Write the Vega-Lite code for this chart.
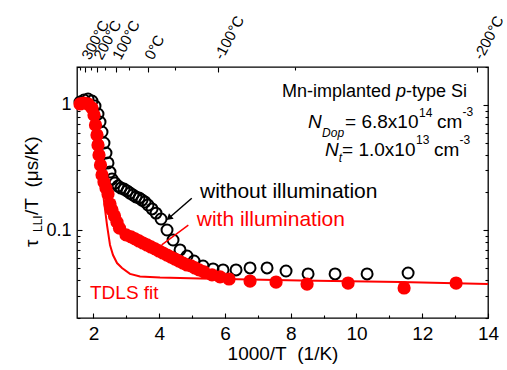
{
  "$schema": "https://vega.github.io/schema/vega-lite/v6.json",
  "width": 411,
  "height": 251,
  "autosize": "none",
  "padding": {"left": 77, "top": 67, "right": 19, "bottom": 52},
  "background": "white",
  "config": {
    "font": "Liberation Sans",
    "view": {"stroke": "#000", "strokeWidth": 1.3},
    "axis": {"grid": false, "domain": false, "tickColor": "#000", "tickWidth": 1.1, "labelColor": "#000", "labelFont": "Liberation Sans", "titleFont": "Liberation Sans", "titleColor": "#000", "labelFlush": false, "labelOverlap": false, "labelBound": false}
  },
  "datasets": {
    "without": [
      {"x":1.591,"y":1.053},{"x":1.713,"y":1.092},{"x":1.835,"y":1.112},{"x":1.956,"y":1.072},{"x":2.048,"y":0.978},{"x":2.139,"y":0.845},{"x":2.2,"y":0.729},{"x":2.261,"y":0.607},{"x":2.321,"y":0.496},{"x":2.382,"y":0.413},{"x":2.443,"y":0.344},{"x":2.504,"y":0.291},{"x":2.565,"y":0.256},{"x":2.656,"y":0.238},{"x":2.747,"y":0.225},{"x":2.839,"y":0.217},{"x":2.93,"y":0.213},{"x":3.021,"y":0.206},{"x":3.112,"y":0.198},{"x":3.204,"y":0.191},{"x":3.295,"y":0.184},{"x":3.386,"y":0.181},{"x":3.478,"y":0.174},{"x":3.569,"y":0.168},{"x":3.66,"y":0.159},{"x":3.782,"y":0.148},{"x":3.903,"y":0.137},{"x":4.056,"y":0.123},{"x":4.238,"y":0.1005},{"x":4.421,"y":0.0837},{"x":4.634,"y":0.0697},{"x":4.847,"y":0.0624},{"x":5.059,"y":0.0569},{"x":5.333,"y":0.0519},{"x":5.638,"y":0.0492},{"x":5.942,"y":0.0483},{"x":6.337,"y":0.0483},{"x":6.763,"y":0.0501},{"x":7.28,"y":0.0501},{"x":7.858,"y":0.0474},{"x":8.528,"y":0.0449},{"x":9.349,"y":0.0449},{"x":10.323,"y":0.0449},{"x":11.57,"y":0.0457}
    ],
    "with": [
      {"x":1.591,"y":1.015},{"x":1.713,"y":1.033},{"x":1.835,"y":1.015},{"x":1.956,"y":0.943},{"x":2.017,"y":0.829},{"x":2.063,"y":0.69},{"x":2.108,"y":0.574},{"x":2.139,"y":0.478},{"x":2.169,"y":0.398},{"x":2.215,"y":0.331},{"x":2.261,"y":0.276},{"x":2.321,"y":0.242},{"x":2.382,"y":0.217},{"x":2.443,"y":0.195},{"x":2.504,"y":0.162},{"x":2.565,"y":0.145},{"x":2.641,"y":0.13},{"x":2.717,"y":0.116},{"x":2.793,"y":0.104},{"x":2.991,"y":0.0918},{"x":3.143,"y":0.0885},{"x":3.265,"y":0.0853},{"x":3.386,"y":0.0822},{"x":3.508,"y":0.0792},{"x":3.63,"y":0.0764},{"x":3.751,"y":0.0736},{"x":3.873,"y":0.071},{"x":3.995,"y":0.0684},{"x":4.116,"y":0.0659},{"x":4.238,"y":0.0635},{"x":4.36,"y":0.0612},{"x":4.481,"y":0.059},{"x":4.603,"y":0.0569},{"x":4.725,"y":0.0548},{"x":4.847,"y":0.0529},{"x":4.968,"y":0.052},{"x":5.09,"y":0.0501},{"x":5.212,"y":0.0483},{"x":5.364,"y":0.0466},{"x":5.607,"y":0.0441},{"x":5.851,"y":0.0425},{"x":6.124,"y":0.0409},{"x":6.763,"y":0.0394},{"x":7.554,"y":0.0387},{"x":8.497,"y":0.0373},{"x":9.745,"y":0.038},{"x":11.448,"y":0.0347},{"x":13.03,"y":0.038}
    ],
    "fit": [
      {"x":1.53,"y":1.033},{"x":1.713,"y":1.072},{"x":1.835,"y":1.072},{"x":1.956,"y":0.978},{"x":2.078,"y":0.69},{"x":2.169,"y":0.436},{"x":2.245,"y":0.276},{"x":2.306,"y":0.184},{"x":2.413,"y":0.11},{"x":2.504,"y":0.0764},{"x":2.595,"y":0.0635},{"x":2.717,"y":0.0548},{"x":2.869,"y":0.0501},{"x":3.112,"y":0.0449},{"x":3.417,"y":0.0428},{"x":4.025,"y":0.042},{"x":5.242,"y":0.0413},{"x":8.284,"y":0.0398},{"x":11.327,"y":0.0387},{"x":14.0,"y":0.0373}
    ],
    "txtCurve": [
      {"x":5.242,"y":0.2018,"t":"without illumination"}
    ],
    "txtBlack": [
      {"x":7.737,"y":1.272,"t":"Mn-implanted"},
      {"x":11.509,"y":1.272,"t":"-type Si"}
    ],
    "txtBlack2": [
      {"x":9.653,"y":0.7334,"t":"= 6.8x10"},
      {"x":12.452,"y":0.7334,"t":"cm"},
      {"x":9.562,"y":0.436,"t":"= 1.0x10"},
      {"x":12.361,"y":0.436,"t":"cm"}
    ],
    "txtRed": [
      {"x":5.142,"y":0.1208,"t":"with illumination"}
    ],
    "txtRed2": [
      {"x":1.895,"y":0.03165,"t":"TDLS fit"}
    ],
    "txtItal1": [
      {"x":11.205,"y":1.272,"t":"p"}
    ],
    "txtItal": [
      {"x":8.528,"y":0.7334,"t":"N"},
      {"x":9.045,"y":0.436,"t":"N"}
    ],
    "txtItalSmall": [
      {"x":8.954,"y":0.5926,"t":"Dop"},
      {"x":9.462,"y":0.377,"t":"t"}
    ],
    "txtSmall": [
      {"x":11.905,"y":0.865,"t":"14"},
      {"x":13.228,"y":0.876,"t":"-3"},
      {"x":11.813,"y":0.524,"t":"13"},
      {"x":13.137,"y":0.524,"t":"-3"}
    ],
    "yTitle": [
      {"x":0.122,"y":0.0736,"t":"τ"},
      {"x":0.122,"y":0.1324,"t":"/T\u00a0\u00a0(μs/K)"}
    ],
    "yTitleSub": [
      {"x":0.329,"y":0.0969,"t":"LLI"}
    ],
    "arrow": [
      {"x":4.99,"y":0.18,"x2":4.298,"y2":0.1253}
    ],
    "arrowHead": [
      {"x":4.298,"y":0.1253}
    ],
    "redSeg": [
      {"x":4.886,"y":0.11,"x2":4.077,"y2":0.0764}
    ]
  },
  "resolve": {"axis": {"x": "independent", "y": "independent"}},
  "layer": [
    {
      "data": {"name": "without"},
      "mark": {"type": "point", "shape": "circle", "filled": false, "stroke": "#000", "strokeWidth": 2, "size": 120, "opacity": 1},
      "encoding": {
        "x": {"field": "x", "type": "quantitative", "scale": {"domain": [1.5, 14], "nice": false, "zero": false},
              "axis": {"orient": "bottom", "values": [2,4,6,8,10,12,14], "tickSize": -5, "labelPadding": 11, "labelFontSize": 19, "title": "1000/T\u00a0\u00a0(1/K)", "titleFontSize": 19, "titleFontWeight": "normal", "titlePadding": 1}},
        "y": {"field": "y", "type": "quantitative", "scale": {"type": "log", "domain": [0.02, 2], "nice": false, "zero": false},
              "axis": {"orient": "left", "values": [0.1, 1], "tickSize": -5, "labelPadding": 11, "labelFontSize": 18, "title": null, "labelExpr": "datum.value >= 0.5 ? '1' : '0.1'"}}
      }
    },
    {
      "data": {"name": "fit"},
      "mark": {"type": "line", "color": "#ff0000", "strokeWidth": 2},
      "encoding": {
        "x": {"field": "x", "type": "quantitative", "scale": {"domain": [1.5, 14], "nice": false, "zero": false},
              "axis": {"orient": "bottom", "values": [3,5,7,9,11,13], "tickSize": -3, "labels": false, "title": null}},
        "y": {"field": "y", "type": "quantitative", "scale": {"type": "log", "domain": [0.02, 2], "nice": false, "zero": false},
              "axis": {"orient": "left", "values": [0.02,0.03,0.04,0.05,0.06,0.07,0.08,0.09,0.2,0.3,0.4,0.5,0.6,0.7,0.8,0.9,2], "tickSize": -3, "labels": false, "title": null}}
      }
    },
    {
      "data": {"name": "with"},
      "mark": {"type": "point", "shape": "circle", "filled": true, "color": "#ff0000", "size": 175, "opacity": 1},
      "encoding": {
        "x": {"field": "x", "type": "quantitative", "scale": {"domain": [1.5, 14], "nice": false, "zero": false},
              "axis": {"orient": "top", "values": [1.74474, 2.11349, 2.67989, 3.66099, 5.77534, 13.67054], "tickSize": -5, "labelAngle": -62, "labelAlign": "left", "labelBaseline": "middle", "labelPadding": 14, "labelFontSize": 15, "labelExpr": "round(1000/datum.value - 273.15) + '°C'", "title": null}},
        "y": {"field": "y", "type": "quantitative", "scale": {"type": "log", "domain": [0.02, 2], "nice": false, "zero": false},
              "axis": {"orient": "right", "values": [0.1, 1], "tickSize": -5, "labels": false, "title": null}}
      }
    },
    {
      "data": {"name": "txtCurve"},
      "mark": {"type": "text", "align": "left", "baseline": "middle", "fontSize": 21, "color": "#000"},
      "encoding": {
        "x": {"field": "x", "type": "quantitative", "scale": {"domain": [1.5, 14], "nice": false, "zero": false},
              "axis": {"orient": "top", "values": [1.60475, 1.9115, 2.36323, 3.09454, 4.48129, 8.12018], "tickSize": -3, "labels": false, "title": null}},
        "y": {"field": "y", "type": "quantitative", "scale": {"type": "log", "domain": [0.02, 2], "nice": false, "zero": false},
              "axis": {"orient": "right", "values": [0.02,0.03,0.04,0.05,0.06,0.07,0.08,0.09,0.2,0.3,0.4,0.5,0.6,0.7,0.8,0.9,2], "tickSize": -3, "labels": false, "title": null}},
        "text": {"field": "t"}
      }
    },
    {
      "data": {"name": "txtBlack"},
      "mark": {"type": "text", "align": "left", "baseline": "middle", "fontSize": 18, "color": "#000"},
      "encoding": {
        "x": {"field": "x", "type": "quantitative", "axis": null},
        "y": {"field": "y", "type": "quantitative", "scale": {"type": "log"}, "axis": null},
        "text": {"field": "t"}
      }
    },
    {
      "data": {"name": "txtBlack2"},
      "mark": {"type": "text", "align": "left", "baseline": "middle", "fontSize": 19, "color": "#000"},
      "encoding": {
        "x": {"field": "x", "type": "quantitative", "axis": null},
        "y": {"field": "y", "type": "quantitative", "scale": {"type": "log"}, "axis": null},
        "text": {"field": "t"}
      }
    },
    {
      "data": {"name": "txtRed"},
      "mark": {"type": "text", "align": "left", "baseline": "middle", "fontSize": 21, "color": "#ff0000"},
      "encoding": {
        "x": {"field": "x", "type": "quantitative", "axis": null},
        "y": {"field": "y", "type": "quantitative", "scale": {"type": "log"}, "axis": null},
        "text": {"field": "t"}
      }
    },
    {
      "data": {"name": "txtRed2"},
      "mark": {"type": "text", "align": "left", "baseline": "middle", "fontSize": 19, "color": "#ff0000"},
      "encoding": {
        "x": {"field": "x", "type": "quantitative", "axis": null},
        "y": {"field": "y", "type": "quantitative", "scale": {"type": "log"}, "axis": null},
        "text": {"field": "t"}
      }
    },
    {
      "data": {"name": "txtItal1"},
      "mark": {"type": "text", "align": "left", "baseline": "middle", "fontSize": 18, "fontStyle": "italic", "color": "#000"},
      "encoding": {
        "x": {"field": "x", "type": "quantitative", "axis": null},
        "y": {"field": "y", "type": "quantitative", "scale": {"type": "log"}, "axis": null},
        "text": {"field": "t"}
      }
    },
    {
      "data": {"name": "txtItal"},
      "mark": {"type": "text", "align": "left", "baseline": "middle", "fontSize": 19, "fontStyle": "italic", "color": "#000"},
      "encoding": {
        "x": {"field": "x", "type": "quantitative", "axis": null},
        "y": {"field": "y", "type": "quantitative", "scale": {"type": "log"}, "axis": null},
        "text": {"field": "t"}
      }
    },
    {
      "data": {"name": "txtItalSmall"},
      "mark": {"type": "text", "align": "left", "baseline": "middle", "fontSize": 12, "fontStyle": "italic", "color": "#000"},
      "encoding": {
        "x": {"field": "x", "type": "quantitative", "axis": null},
        "y": {"field": "y", "type": "quantitative", "scale": {"type": "log"}, "axis": null},
        "text": {"field": "t"}
      }
    },
    {
      "data": {"name": "txtSmall"},
      "mark": {"type": "text", "align": "left", "baseline": "middle", "fontSize": 12, "color": "#000"},
      "encoding": {
        "x": {"field": "x", "type": "quantitative", "axis": null},
        "y": {"field": "y", "type": "quantitative", "scale": {"type": "log"}, "axis": null},
        "text": {"field": "t"}
      }
    },
    {
      "data": {"name": "yTitle"},
      "mark": {"type": "text", "align": "left", "baseline": "middle", "fontSize": 19, "angle": 270, "color": "#000"},
      "encoding": {
        "x": {"field": "x", "type": "quantitative", "axis": null},
        "y": {"field": "y", "type": "quantitative", "scale": {"type": "log"}, "axis": null},
        "text": {"field": "t"}
      }
    },
    {
      "data": {"name": "yTitleSub"},
      "mark": {"type": "text", "align": "left", "baseline": "middle", "fontSize": 12, "angle": 270, "color": "#000"},
      "encoding": {
        "x": {"field": "x", "type": "quantitative", "axis": null},
        "y": {"field": "y", "type": "quantitative", "scale": {"type": "log"}, "axis": null},
        "text": {"field": "t"}
      }
    },
    {
      "data": {"name": "arrow"},
      "mark": {"type": "rule", "color": "#000", "strokeWidth": 1.5},
      "encoding": {
        "x": {"field": "x", "type": "quantitative", "axis": null},
        "y": {"field": "y", "type": "quantitative", "scale": {"type": "log"}, "axis": null},
        "x2": {"field": "x2"},
        "y2": {"field": "y2"}
      }
    },
    {
      "data": {"name": "arrowHead"},
      "mark": {"type": "point", "shape": "triangle-up", "filled": true, "color": "#000", "size": 50, "angle": 229, "opacity": 1},
      "encoding": {
        "x": {"field": "x", "type": "quantitative", "axis": null},
        "y": {"field": "y", "type": "quantitative", "scale": {"type": "log"}, "axis": null}
      }
    },
    {
      "data": {"name": "redSeg"},
      "mark": {"type": "rule", "color": "#ff0000", "strokeWidth": 1.5},
      "encoding": {
        "x": {"field": "x", "type": "quantitative", "axis": null},
        "y": {"field": "y", "type": "quantitative", "scale": {"type": "log"}, "axis": null},
        "x2": {"field": "x2"},
        "y2": {"field": "y2"}
      }
    }
  ]
}
